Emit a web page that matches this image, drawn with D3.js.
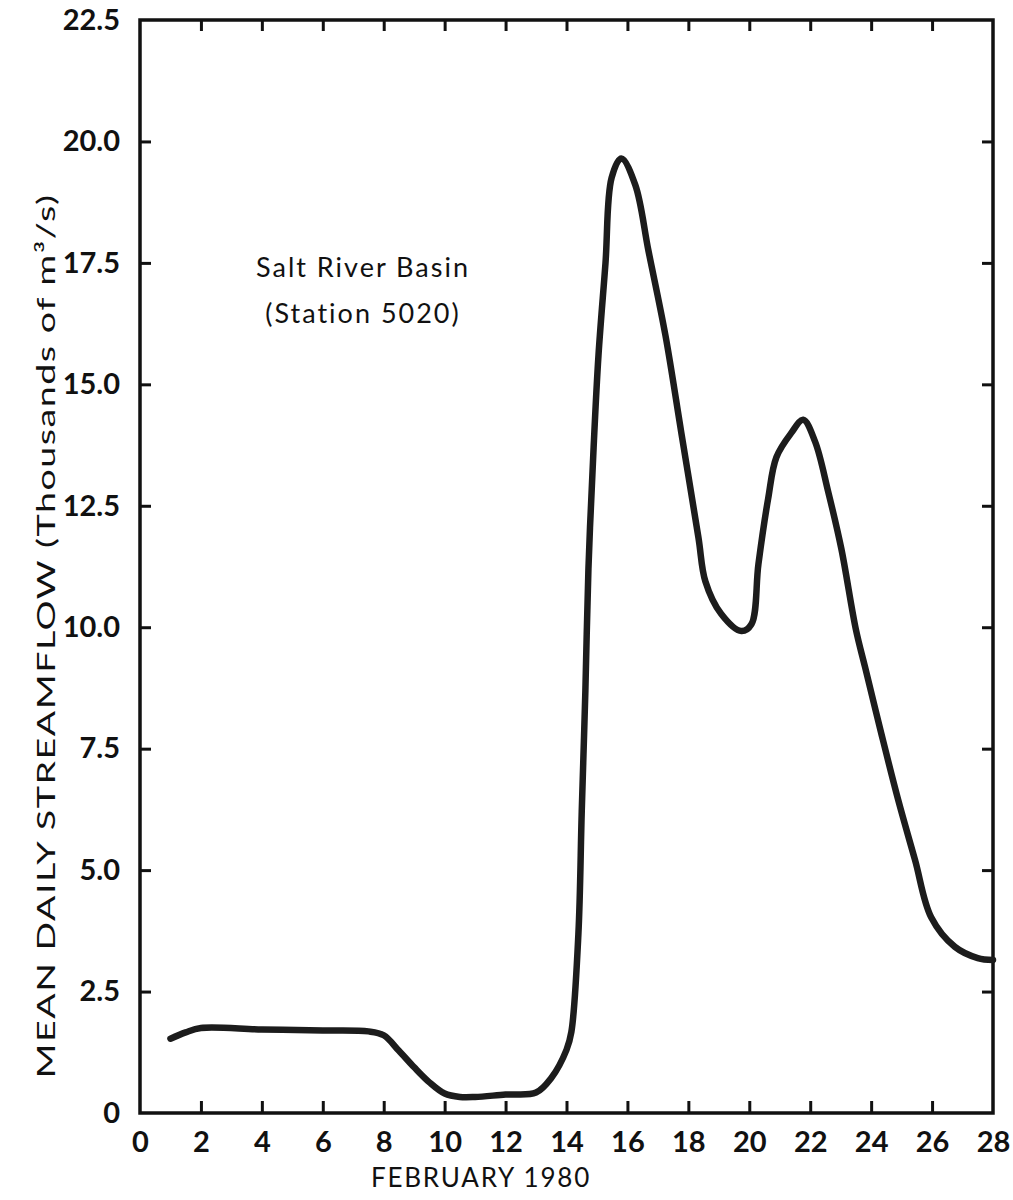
<!DOCTYPE html>
<html>
<head>
<meta charset="utf-8">
<script src="https://cdn.jsdelivr.net/npm/d3@7.9.0/dist/d3.min.js"></script>
<style>
  html, body { margin: 0; padding: 0; background: #fff; }
  svg { display: block; }
  .tick text { font-family: Lato, "DejaVu Sans", sans-serif; font-weight: bold; font-size: 29px; fill: #111; }
  .lbl { font-family: Lato, "DejaVu Sans", sans-serif; fill: #111; }
</style>
</head>
<body>
<svg id="chart" width="1013" height="1200"></svg>
<script>
// day of February 1980 and mean daily streamflow (thousands of m3/s)
const days = [1, 1.5, 2, 4, 6, 7.5, 8, 8.5, 9, 9.5, 10, 10.5, 11, 12, 13, 13.5, 14,
  14.16, 14.39, 14.5, 14.62, 14.72, 14.89, 15.05, 15.28, 15.48, 15.8, 16.26, 16.69,
  17.25, 17.77, 18.33, 18.56, 19.08, 19.74, 20.07, 20.3, 20.62, 20.89, 21.38, 21.77,
  22.16, 22.59, 23.02, 23.5, 23.8, 24.33, 24.89, 25.44, 25.97, 26.75, 27.5, 28];
const flow = [1.53, 1.66, 1.75, 1.72, 1.70, 1.68, 1.60, 1.28, 0.94, 0.63, 0.40, 0.33, 0.33, 0.38, 0.42, 0.72, 1.3,
  1.67, 3.68, 6.2, 8.7, 11.2, 13.7, 15.6, 17.5, 19.25, 19.65, 19.1, 17.75,
  16.0, 14.0, 11.85, 10.94, 10.27, 9.92, 10.06, 11.3, 12.65, 13.5, 14.0, 14.27,
  13.82, 12.79, 11.62, 9.95, 9.18, 7.82, 6.44, 5.21, 4.03, 3.42, 3.19, 3.15];

const xTicks = [0, 2, 4, 6, 8, 10, 12, 14, 16, 18, 20, 22, 24, 26, 28];
const yTicks = [0, 2.5, 5, 7.5, 10, 12.5, 15, 17.5, 20, 22.5];

const xTitle = "FEBRUARY 1980";
const yTitle = "MEAN DAILY STREAMFLOW (Thousands of m³/s)";
const noteLines = ["Salt River Basin", "(Station 5020)"];

const svg = d3.select("#chart");

const x = d3.scaleLinear().domain([0, 28]).range([140, 993]);
const y = d3.scaleLinear().domain([0, 22.5]).range([1113, 20]);

const inner = xTicks.slice(1, -1);
const innerY = yTicks.slice(1, -1);

// bottom axis with labels, ticks pointing inward
svg.append("g")
  .attr("transform", `translate(0,${y(0)})`)
  .call(d3.axisBottom(x).tickValues(xTicks).tickSizeInner(-12).tickSizeOuter(0).tickPadding(18).tickFormat(d3.format("d")))
  .call(g => g.select(".domain").remove())
  .call(g => g.selectAll(".tick line").attr("stroke", "#111").attr("stroke-width", 3)
    .filter(d => d === 0 || d === 28).remove());

// top ticks
svg.append("g")
  .attr("transform", `translate(0,${y(22.5)})`)
  .call(d3.axisTop(x).tickValues(inner).tickSizeInner(-11).tickSizeOuter(0).tickFormat(""))
  .call(g => g.select(".domain").remove())
  .call(g => g.selectAll(".tick line").attr("stroke", "#111").attr("stroke-width", 3));

// left axis with labels
svg.append("g")
  .attr("transform", `translate(${x(0)},0)`)
  .call(d3.axisLeft(y).tickValues(yTicks).tickSizeInner(-11).tickSizeOuter(0).tickPadding(20)
    .tickFormat(d => d === 0 ? "0" : d3.format(".1f")(d)))
  .call(g => g.select(".domain").remove())
  .call(g => g.selectAll(".tick line").attr("stroke", "#111").attr("stroke-width", 3)
    .filter(d => d === 0 || d === 22.5).remove());

// right ticks
svg.append("g")
  .attr("transform", `translate(${x(28)},0)`)
  .call(d3.axisRight(y).tickValues(innerY).tickSizeInner(-11).tickSizeOuter(0).tickFormat(""))
  .call(g => g.select(".domain").remove())
  .call(g => g.selectAll(".tick line").attr("stroke", "#111").attr("stroke-width", 3));

// frame
svg.append("rect")
  .attr("x", x(0)).attr("y", y(22.5))
  .attr("width", x(28) - x(0)).attr("height", y(0) - y(22.5))
  .attr("fill", "none").attr("stroke", "#111").attr("stroke-width", 3.5);

// streamflow curve
const line = d3.line()
  .x((d, i) => x(days[i]))
  .y(d => y(d))
  .curve(d3.curveCatmullRom.alpha(0.5));

svg.append("path")
  .datum(flow)
  .attr("d", line)
  .attr("fill", "none")
  .attr("stroke", "#1c1c1c")
  .attr("stroke-width", 6.5)
  .attr("stroke-linecap", "round")
  .attr("stroke-linejoin", "round");

// annotation
svg.append("g").selectAll("text")
  .data(noteLines)
  .join("text")
  .attr("class", "lbl")
  .attr("x", 363)
  .attr("y", (d, i) => 277 + i * 46)
  .attr("text-anchor", "middle")
  .attr("font-size", 27)
  .attr("letter-spacing", 2)
  .text(d => d);

// axis titles
svg.append("text")
  .attr("class", "lbl")
  .attr("x", 481).attr("y", 1187)
  .attr("text-anchor", "middle")
  .attr("font-size", 26)
  .attr("letter-spacing", 1.8)
  .text(xTitle);

svg.append("text")
  .attr("class", "lbl")
  .attr("transform", `translate(55,636) rotate(-90)`)
  .attr("text-anchor", "middle")
  .attr("font-family", "'DejaVu Sans', sans-serif")
  .attr("font-size", 25)
  .attr("letter-spacing", 1)
  .attr("textLength", 885)
  .attr("lengthAdjust", "spacingAndGlyphs")
  .text(yTitle);
</script>
</body>
</html>
